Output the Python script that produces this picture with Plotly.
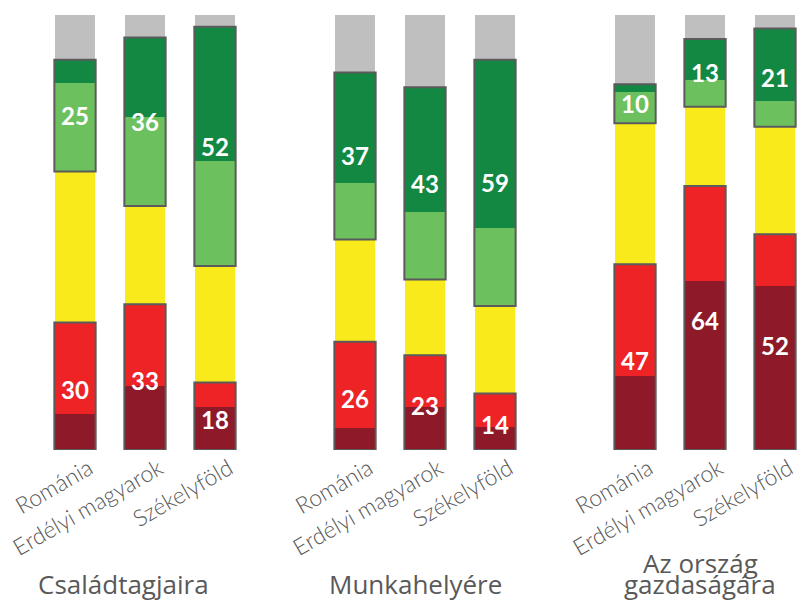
import plotly.graph_objects as go

group_lines = [["Családtagjaira"], ["Munkahelyére"], ["Az ország", "gazdaságára"]]
categories = ["Románia", "Erdélyi magyarok", "Székelyföld"]

# segment shares per bar (group 1 bars, group 2 bars, group 3 bars)
very_neg = [8.3, 14.6, 10.0, 5.1, 9.8, 5.4, 17.0, 38.9, 37.8]
neg = [21.0, 18.9, 5.5, 19.8, 12.0, 7.6, 25.7, 21.8, 11.8]
neutral = [34.7, 22.6, 26.8, 23.5, 17.4, 20.1, 32.4, 18.2, 24.7]
pos = [20.4, 20.5, 24.1, 13.0, 15.4, 17.9, 7.3, 6.2, 5.9]
very_pos = [5.3, 18.2, 30.9, 25.4, 28.8, 38.7, 1.7, 9.4, 16.7]
no_answer = [10.3, 5.2, 2.7, 13.2, 16.6, 10.3, 15.9, 5.5, 3.1]
neg_labels = [30, 33, 18, 26, 23, 14, 47, 64, 52]
pos_labels = [25, 36, 52, 37, 43, 59, 10, 13, 21]

# x positions: 3 bars per group with an empty slot between groups
xs = [g * 4 + i for g in range(len(group_lines)) for i in range(len(categories))]
ticktext = [c for _ in group_lines for c in categories]

colors = ["#8E1928", "#EE2326", "#F8EA1B", "#6DC05E", "#128843", "#BFBFBF"]
series = [very_neg, neg, neutral, pos, very_pos, no_answer]
BW = 0.56

fig = go.Figure()
for vals, col in zip(series, colors):
    fig.add_trace(go.Bar(x=xs, y=vals, marker=dict(color=col, line=dict(width=0)),
                         width=BW, hoverinfo="skip", showlegend=False))

shapes = []
annotations = []
edge = "#5B5B5B"
lab_font = dict(family="Lato", size=24, color="white", weight="bold")
for k, x in enumerate(xs):
    n_top = very_neg[k] + neg[k]
    p_bot = n_top + neutral[k]
    p_top = p_bot + pos[k] + very_pos[k]
    for y0, y1 in [(0, n_top), (p_bot, p_top)]:
        shapes.append(dict(type="rect", xref="x", yref="y", x0=x - BW / 2 - 0.015,
                           x1=x + BW / 2 + 0.015, y0=y0, y1=y1,
                           line=dict(color=edge, width=2), fillcolor="rgba(0,0,0,0)"))
    annotations.append(dict(x=x, y=n_top / 2, xref="x", yref="y", text=str(neg_labels[k]),
                            showarrow=False, font=lab_font, yshift=-3))
    annotations.append(dict(x=x, y=(p_bot + p_top) / 2, xref="x", yref="y", text=str(pos_labels[k]),
                            showarrow=False, font=lab_font))

title_shift = [-22, -10, -5]
for g, lines in enumerate(group_lines):
    n = len(lines)
    for j, line in enumerate(lines):
        annotations.append(dict(x=g * 4 + 1, y=0, xref="x", yref="paper", text=line,
                                showarrow=False, xshift=title_shift[g],
                                yshift=-154 + 21.5 * (n - 1 - j),
                                yanchor="bottom", xanchor="center",
                                font=dict(family="Open Sans", size=26, color="#595959")))

fig.update_layout(
    barmode="stack",
    width=797, height=601,
    margin=dict(l=40, r=0, t=15, b=151),
    plot_bgcolor="white", paper_bgcolor="white",
    shapes=shapes, annotations=annotations,
    bargap=0,
)
fig.update_xaxes(range=[-0.5, 10.314], tickmode="array", tickvals=xs, ticktext=ticktext,
                 tickangle=-30, showgrid=False, zeroline=False, showline=False, ticks="",
                 ticklabelshift=14, ticklabeloverflow="allow",
                 tickfont=dict(family="Lato", size=23, color="#595959", weight=300))
fig.update_yaxes(range=[0, 100], visible=False)

fig.write_html("out.html", config={"displayModeBar": False},
               post_script="document.body.style.margin='0';document.body.style.overflow='hidden';")
